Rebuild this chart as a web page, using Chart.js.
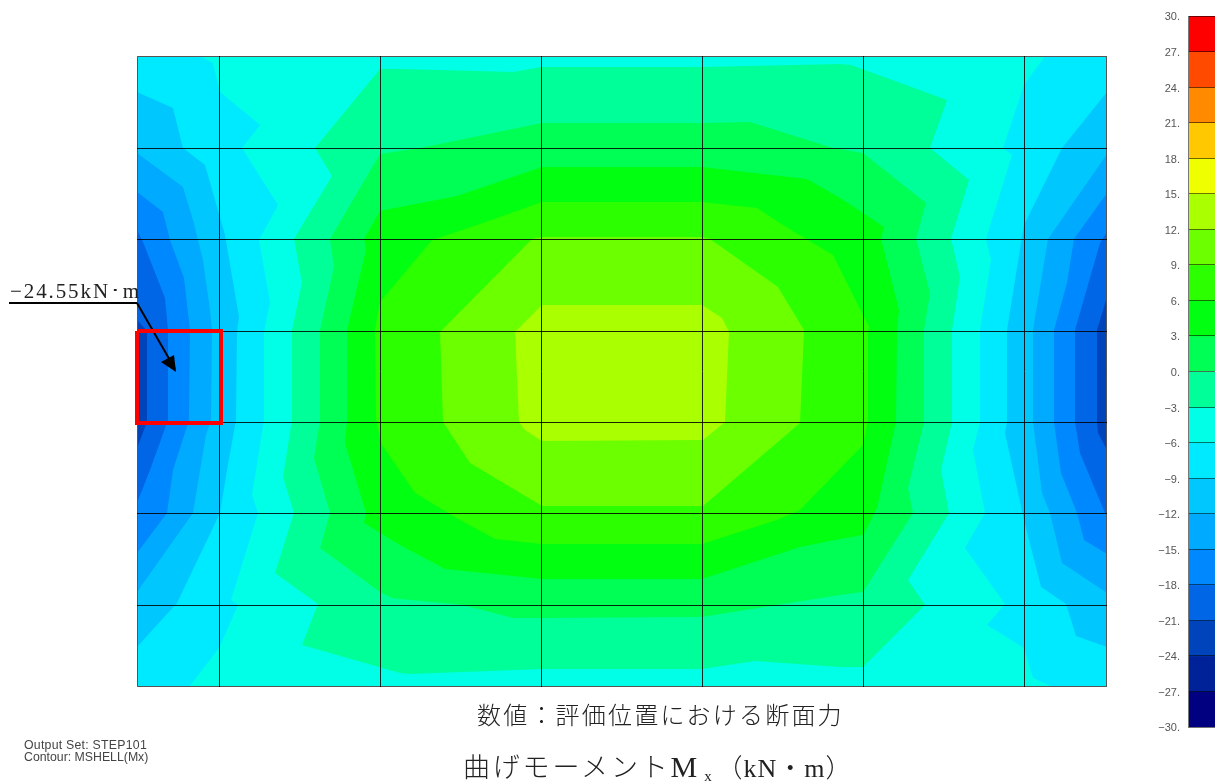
<!DOCTYPE html>
<html lang="ja">
<head>
<meta charset="utf-8">
<title>曲げモーメントMx</title>
<script src="https://cdn.jsdelivr.net/npm/chart.js@4"></script>
<style>
html,body{margin:0;padding:0;background:#fff;width:1215px;height:783px;overflow:hidden}
canvas{position:absolute;display:block}
.t{position:absolute;white-space:nowrap;color:#222}
.jp{font-family:"Liberation Serif","Noto Sans CJK JP",serif;font-weight:300}
</style>
</head>
<body>
<canvas id="contour" width="1215" height="783" style="left:0;top:0;width:1215px;height:783px"></canvas>
<canvas id="scale" width="85" height="783" style="left:1130px;top:0;width:85px;height:783px"></canvas>
<div class="t" id="callout" style="left:10px;top:279px;font:21px 'Liberation Serif',serif;letter-spacing:1.9px">−24.55kN･m</div>
<div class="t jp" style="left:477px;top:696px;font-size:24px;letter-spacing:2.2px">数値：評価位置における断面力</div>
<div class="t jp" style="left:463px;top:746px;font-size:27px;letter-spacing:2.8px">曲げモーメント<span style="font-size:30px;letter-spacing:5px">M</span><sub style="font-size:15px;vertical-align:-4px;margin:0 2px 0 2px">x</sub><span style="letter-spacing:1px;font-size:26px">（kN・m）</span></div>
<div class="t" style="left:24px;top:739px;font:12.3px/12px 'Liberation Sans',sans-serif;color:#444"><span style="letter-spacing:.25px">Output Set: STEP101</span><br>Contour: MSHELL(Mx)</div>
<script>
// Contour levels and their colours (top of scale to bottom)
const scaleTicks = [30,27,24,21,18,15,12,9,6,3,0,-3,-6,-9,-12,-15,-18,-21,-24,-27,-30];
const bandColors = ['#ff0000','#ff4a00','#ff8a00','#ffc800','#f0ff00','#aaff00','#6cff00','#2bff00','#00ff11','#00ff55','#00ff99','#00ffe6','#00eaff','#00c8ff','#00aaff','#0088ff','#0066e6','#0044bb','#002299','#000080'];

// Slab extent and shell mesh lines, model units
const slabWidth = 970;
const slabHeight = 631;
const meshX = [82.5,243.5,404.5,565.5,726.5,887.5];
const meshY = [538.5,447.5,355.5,264.5,173.5,81.5];

// Regions where Mx exceeds each level: [x, y] outlines
const above12 = [[405,382],[565,382],[585,369],[592,355],[588,265],[566,247],[405,246],[388,257],[382,265],[378,355]];
const above9 = [[405,450],[565,450],[573,448],[641,400],[667,357],[663,264],[566,181],[405,181],[333,224],[306,265],[303,355],[395,448]];
const above6 = [[405,485],[565,485],[620,479],[646,462],[696,432],[732,360],[731,354],[731,267],[726,242],[663,177],[640,167],[565,143],[405,143],[358,148],[323,167],[278,194],[245,242],[239,267],[238,357],[243,385],[295,447],[340,462]];
const above3 = [[405,520],[565,520],[670,508],[703,489],[726,474],[747,460],[744,448],[762,377],[760,357],[759,265],[740,179],[726,152],[703,148],[663,140],[565,108],[405,108],[308,118],[263,142],[227,164],[229,174],[208,244],[210,267],[210,357],[229,437],[227,448],[243,476],[263,480],[320,491]];
const above0 = [[405,564],[565,564],[613,565],[696,539],[726,534],[789,484],[779,448],[793,394],[787,357],[787,265],[771,199],[776,174],[726,95],[703,92],[640,82],[565,70],[405,69],[376,69],[326,82],[263,88],[255,89],[243,95],[183,139],[193,174],[177,229],[183,267],[183,357],[197,420],[193,448],[243,533],[283,539]];
const aboveM3 = [[405,620],[565,620],[703,623],[714,622],[810,587],[793,539],[832,507],[814,448],[823,410],[815,357],[815,265],[804,217],[812,174],[771,107],[788,82],[726,20],[703,20],[618,26],[565,18],[405,18],[273,13],[263,14],[165,42],[181,83],[138,114],[157,174],[146,210],[155,267],[155,357],[165,404],[157,448],[195,511],[178,539],[243,618],[263,618],[376,615]];
const aboveM6 = [[63,631],[76,624],[83,595],[123,562],[105,539],[141,482],[122,447],[133,385],[127,355],[127,267],[115,192],[121,174],[94,87],[101,82],[82,39],[52,0],[916,0],[896,9],[887,39],[850,62],[868,83],[828,139],[848,174],[836,237],[843,265],[843,357],[854,427],[849,448],[875,532],[866,539],[887,602],[908,631]];
const aboveM9 = [[0,595],[36,579],[46,539],[68,522],[88,452],[102,370],[100,354],[99,267],[90,217],[83,174],[40,84],[0,40],[0,0],[970,0],[970,40],[939,51],[929,83],[904,100],[887,167],[868,254],[870,265],[870,357],[884,444],[887,462],[925,539],[970,595],[970,631],[0,631]];
const aboveM12 = [[0,534],[46,500],[56,467],[66,427],[73,377],[75,357],[74,267],[69,252],[56,174],[0,95],[0,0],[970,0],[970,94],[925,124],[913,174],[905,194],[896,265],[896,357],[911,448],[970,533],[970,631],[0,631]];
const aboveM15 = [[0,495],[26,475],[33,447],[47,409],[53,357],[52,267],[36,217],[30,174],[0,134],[0,0],[970,0],[970,133],[947,147],[940,174],[924,214],[917,265],[917,357],[930,404],[937,448],[970,494],[970,631],[0,631]];
const aboveM18 = [[0,457],[6,445],[28,389],[31,357],[31,267],[13,217],[0,184],[0,0],[970,0],[970,174],[968,174],[943,234],[938,265],[938,357],[963,444],[970,455],[970,631],[0,631]];
const aboveM21 = [[0,367],[10,356],[10,265],[0,239],[0,0],[970,0],[970,237],[961,254],[960,265],[960,357],[970,390],[970,631],[0,631]];
const aboveM24 = [[0,0],[970,0],[970,631],[0,631]];

// Highlighted element and call-out leader, model units
const highlightElement = [[0,356],[84,356],[84,264],[0,264],[0,356]];
const leaderUnderline = [[-128,384],[0,384]];
const leaderShaft = [[0,384],[38,318]];
const leaderHead = [[39,315],[24,325],[37,332]];

const pts = a => a.map(p => ({x:p[0], y:p[1]}));
const colorFor = lvl => bandColors[scaleTicks.indexOf(lvl) - 1];
const region = (outline, lvl) => ({data:pts(outline), showLine:true, fill:'shape', backgroundColor:colorFor(lvl), borderColor:'transparent', borderWidth:0, pointRadius:0, tension:0});
const stroke = (outline, color, width) => ({data:pts(outline), showLine:true, fill:false, borderColor:color, borderWidth:width, pointRadius:0, tension:0, clip:false});

const datasets = [
  stroke(highlightElement,'#ff0000',4),
  stroke(leaderUnderline,'#000',2),
  stroke(leaderShaft,'#000',2),
  {data:pts(leaderHead), showLine:true, fill:'shape', backgroundColor:'#000', borderColor:'transparent', borderWidth:0, pointRadius:0, tension:0},
  ...meshX.map(x => stroke([[x,0],[x,slabHeight]],'rgba(0,0,0,.85)',1)),
  ...meshY.map(y => stroke([[0,y],[slabWidth,y]],'rgba(0,0,0,.85)',1)),
  stroke([[.5,.5],[.5,630.5],[969.5,630.5],[969.5,.5],[.5,.5]],'#555',1),
  region(above12,12), region(above9,9), region(above6,6), region(above3,3), region(above0,0),
  region(aboveM3,-3), region(aboveM6,-6), region(aboveM9,-9), region(aboveM12,-12),
  region(aboveM15,-15), region(aboveM18,-18), region(aboveM21,-21), region(aboveM24,-24)
];

new Chart(document.getElementById('contour'), {
  type:'scatter',
  data:{datasets},
  options:{
    responsive:false, animation:false,
    layout:{padding:{left:137,right:108,top:56,bottom:96}},
    plugins:{legend:{display:false},tooltip:{enabled:false},title:{display:false}},
    scales:{
      x:{type:'linear',min:0,max:slabWidth,display:false},
      y:{type:'linear',min:0,max:slabHeight,display:false}
    }
  }
});

const barAxisTicks = s => { s.ticks = scaleTicks.map(v => ({value:v})); };
new Chart(document.getElementById('scale'), {
  type:'bar',
  data:{
    labels:['Mx'],
    datasets:bandColors.map((c,i)=>({yAxisID:'bands',data:[[scaleTicks[i+1],scaleTicks[i]]],backgroundColor:c,borderWidth:0,categoryPercentage:1,barPercentage:1,grouped:false}))
  },
  options:{
    responsive:false, animation:false,
    layout:{padding:{left:0,right:0,top:16,bottom:56}},
    plugins:{legend:{display:false},tooltip:{enabled:false}},
    scales:{
      x:{display:false,offset:true},
      bands:{
        position:'left',weight:0,min:-30,max:30,
        afterFit(s){s.width=0;},
        afterBuildTicks:barAxisTicks,
        border:{display:true,color:'#777',width:1,z:2},
        grid:{z:1,color:'rgba(0,0,0,.55)',lineWidth:1,drawTicks:false},
        ticks:{display:false}
      },
      y:{
        position:'left',weight:1,min:-29.88,max:30.12,
        afterFit(s){s.width=58;},
        afterBuildTicks:barAxisTicks,
        border:{display:false},
        grid:{display:false,drawTicks:false},
        ticks:{autoSkip:false,padding:8,color:'#555',font:{family:'Liberation Sans',size:11},
          callback:v=>String(v).replace('-','−')+'.'}
      }
    }
  }
});
</script>
</body>
</html>
